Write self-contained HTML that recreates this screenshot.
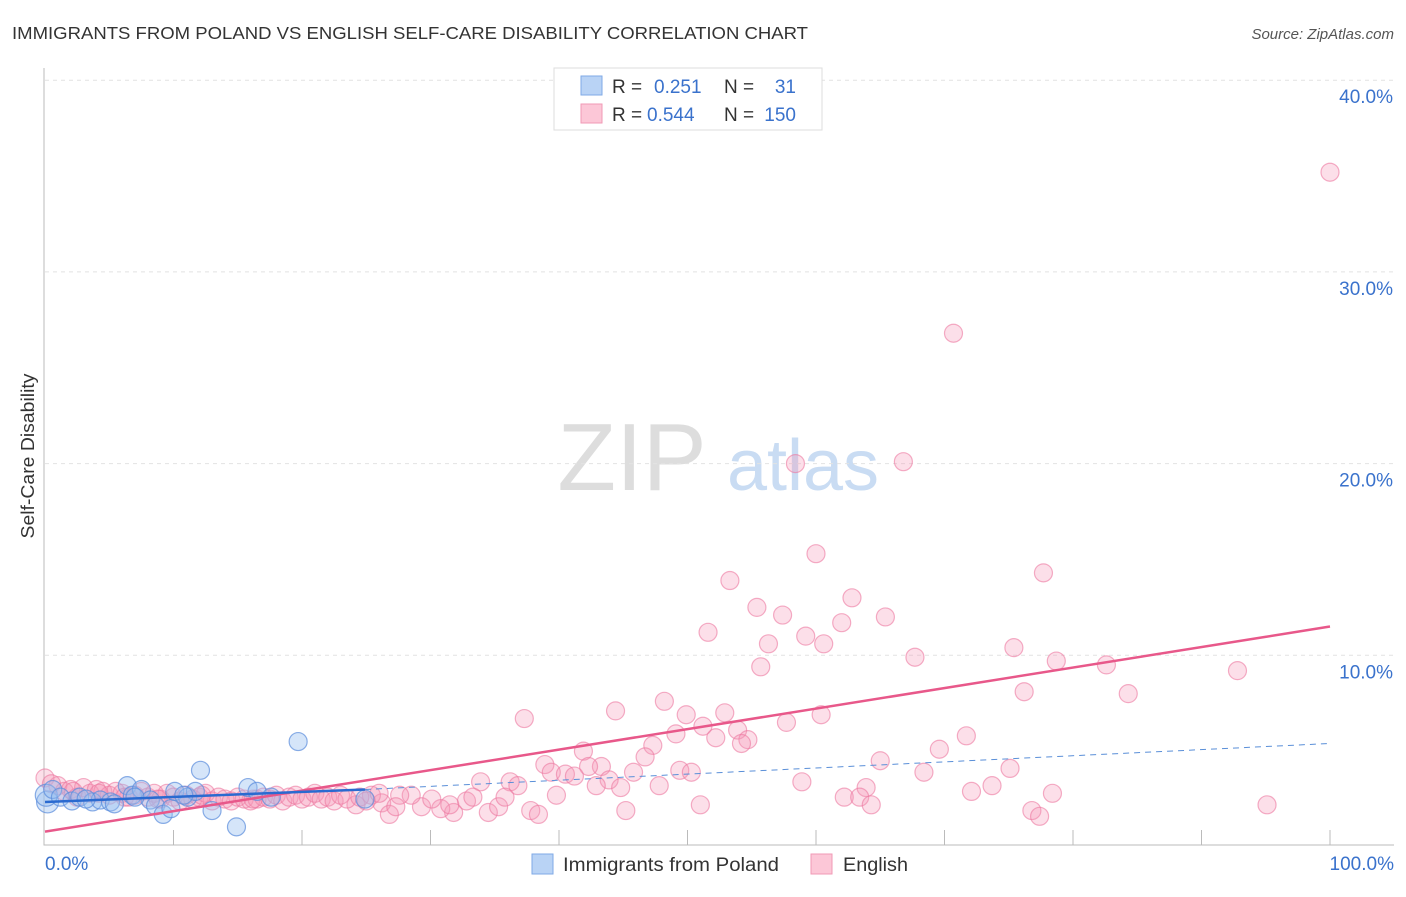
<!DOCTYPE html>
<html><head><meta charset="utf-8"><style>
body{margin:0;background:#fff;font-family:"Liberation Sans",sans-serif;}
svg text{font-family:"Liberation Sans",sans-serif;}
</style></head><body>
<svg id="chart" width="1406" height="892" xmlns="http://www.w3.org/2000/svg">
<text x="12" y="39" font-size="17.5" fill="#333" textLength="796" lengthAdjust="spacingAndGlyphs">IMMIGRANTS FROM POLAND VS ENGLISH SELF-CARE DISABILITY CORRELATION CHART</text>
<text x="1394" y="39" font-size="15" fill="#555" font-style="italic" text-anchor="end">Source: ZipAtlas.com</text>
<g>
<text x="632" y="490" font-size="96" fill="#ddd" font-family="Liberation Serif, serif" text-anchor="middle">ZIP</text>
<text x="803" y="490" font-size="72" fill="#c9dcf3" text-anchor="middle">atlas</text>
</g>
<g id="grid"></g>
<g id="axes"></g>
<g id="pts"></g>
<g id="lines"></g>
<text transform="translate(34,456) rotate(-90)" font-size="18" fill="#333" text-anchor="middle" textLength="165" lengthAdjust="spacingAndGlyphs">Self-Care Disability</text>
<g>
<rect x="554" y="68" width="268" height="62" fill="#fff" stroke="#ddd"/>
<rect x="581" y="76" width="21" height="19" fill="#b9d3f5" stroke="#7fa9e6"/>
<rect x="581" y="104" width="21" height="19" fill="#fcc7d7" stroke="#f09ab6"/>
<text x="612" y="93" font-size="19" fill="#333">R =</text><text x="654" y="93" font-size="19" fill="#3a72cc">0.251</text>
<text x="724" y="93" font-size="19" fill="#333">N =</text><text x="796" y="93" font-size="19" fill="#3a72cc" text-anchor="end">31</text>
<text x="612" y="121" font-size="19" fill="#333">R =</text><text x="647" y="121" font-size="19" fill="#3a72cc">0.544</text>
<text x="724" y="121" font-size="19" fill="#333">N =</text><text x="796" y="121" font-size="19" fill="#3a72cc" text-anchor="end">150</text>
</g>
<g>
<rect x="532" y="854" width="21" height="20" fill="#b9d3f5" stroke="#7fa9e6"/>
<text x="563" y="871" font-size="19" fill="#333" textLength="216" lengthAdjust="spacingAndGlyphs">Immigrants from Poland</text>
<rect x="811" y="854" width="21" height="20" fill="#fcc7d7" stroke="#f09ab6"/>
<text x="843" y="871" font-size="19" fill="#333" textLength="65" lengthAdjust="spacingAndGlyphs">English</text>
</g>
</svg>
<script>
const yTicks=[10,20,30,40];
const yTickLabels=["10.0%","20.0%","30.0%","40.0%"];
const xTickLabels=["0.0%","100.0%"];
const blueX=[0.2,0.1,0.6,1.2,2.1,2.7,3.7,4.3,5.1,5.4,6.4,6.8,7.5,8.2,8.6,9.2,9.8,10.1,11.1,11.7,12.1,13.0,14.9,15.8,16.5,17.6,19.7,24.9,3.2,7.0,10.8];
const blueY=[2.35,2.7,3.0,2.6,2.4,2.6,2.35,2.45,2.35,2.25,3.2,2.7,3.0,2.45,2.15,1.7,2.0,2.9,2.6,2.9,4.0,1.9,1.05,3.1,2.9,2.6,5.5,2.5,2.5,2.6,2.7];
const pinkX=[100,70.7,58.4,66.8,60.0,77.7,53.3,62.8,55.4,57.4,62.0,65.4,51.6,56.3,59.2,60.6,75.4,67.7,55.7,78.7,82.6,92.8,76.2,84.3,48.2,44.4,49.9,52.9,37.3,60.4,51.2,57.7,49.1,52.2,53.9,54.7,54.2,71.7,47.3,69.6,41.9,46.7,38.9,65.0,43.3,42.3,75.1,39.4,40.5,41.2,45.8,49.4,50.3,43.9,42.9,68.4,33.9,36.2,36.8,47.8,58.9,73.7,72.1,63.9,78.4,39.8,44.8,62.2,63.4,64.3,51.0,95.1,76.8,77.4,45.2,37.8,38.4,34.5,35.3,32.8,33.3,31.8,30.8,31.5,29.3,30.1,28.5,27.6,26.2,26.8,27.3,24.2,25.4,35.8,
0,1,1.5,2,2.5,3,3.5,4,4.5,5,5.5,6,6.5,7,7.5,8,8.5,9,9.5,10,10.5,11,11.5,12,12.5,13,13.5,14,14.5,15,15.5,16,16.5,17,17.5,18,18.5,19,19.5,20,20.5,21,21.5,22,22.5,23,23.5,24.5,25,26,0.5,2.2,4.2,6.2,8.8,12.2,16.2];
const pinkY=[35.2,26.8,20.0,20.1,15.3,14.3,13.9,13.0,12.5,12.1,11.7,12.0,11.2,10.6,11.0,10.6,10.4,9.9,9.4,9.7,9.5,9.2,8.1,8.0,7.6,7.1,6.9,7.0,6.7,6.9,6.3,6.5,5.9,5.7,6.1,5.6,5.4,5.8,5.3,5.1,5.0,4.7,4.3,4.5,4.2,4.2,4.1,3.9,3.8,3.7,3.9,4.0,3.9,3.5,3.2,3.9,3.4,3.4,3.2,3.2,3.4,3.2,2.9,3.1,2.8,2.7,3.1,2.6,2.6,2.2,2.2,2.2,1.9,1.6,1.9,1.9,1.7,1.8,2.1,2.4,2.6,1.8,2.0,2.2,2.1,2.5,2.7,2.7,2.3,1.7,2.1,2.2,2.7,2.6,
3.6,3.2,2.9,3.0,2.6,3.1,2.8,3.0,2.9,2.7,2.9,2.8,2.6,2.7,2.9,2.6,2.8,2.5,2.8,2.6,2.4,2.7,2.5,2.6,2.8,2.4,2.6,2.5,2.4,2.6,2.5,2.4,2.5,2.6,2.5,2.7,2.4,2.6,2.7,2.5,2.6,2.8,2.5,2.6,2.4,2.7,2.5,2.6,2.4,2.8,3.3,2.9,2.8,2.6,2.5,2.7,2.5];
const blueTrend=[2.35,3.0,5.4];
const blueTrendX=[0,24.9,100];
const pinkTrend=[0.8,11.5];
const X=v=>45+v*12.85, Y=v=>847-v*19.17;
const NS="http://www.w3.org/2000/svg";
function mk(tag,attrs,parent){const e=document.createElementNS(NS,tag);for(const k in attrs)e.setAttribute(k,attrs[k]);parent.appendChild(e);return e;}
const grid=document.getElementById('grid'),axes=document.getElementById('axes'),pts=document.getElementById('pts'),lines=document.getElementById('lines');
yTicks.forEach((t,i)=>{
 const g=mk('line',{x1:45,x2:1394,y1:Y(t),y2:Y(t),stroke:'#e2e2e2','stroke-dasharray':'4,4'},grid);
 
 
 const l=mk('text',{x:1393,y:Y(t)+23,'font-size':19,fill:'#3a72cc','text-anchor':'end'},axes);
 l.textContent=yTickLabels[i];
 
 
});
const ax=mk('path',{d:`M44 68V845H1394`,stroke:'#bbb',fill:'none'},axes);


for(let i=1;i<=10;i++){const t=mk('line',{x1:X(i*10),x2:X(i*10),y1:830,y2:845,stroke:'#bbb'},axes);
 
 }
[[0,'start',45],[1,'end',1394]].forEach(([i,a,x])=>{const t=mk('text',{x:x,y:870,'font-size':19,fill:'#3a72cc','text-anchor':a},axes);t.textContent=xTickLabels[i];
 
 });
pinkX.forEach((v,i)=>{const c=mk('circle',{cx:X(v),cy:Y(pinkY[i]),r:9,fill:'rgba(246,150,182,0.3)',stroke:'rgba(236,120,160,0.6)','stroke-width':1.2},pts);
 
 });
blueX.forEach((v,i)=>{const c=mk('circle',{cx:X(v),cy:Y(blueY[i]),r:i<2?11:9,fill:'rgba(150,190,240,0.4)',stroke:'rgba(90,140,220,0.7)','stroke-width':1.2},pts);
 
 });
const pl=mk('line',{x1:X(0),y1:Y(pinkTrend[0]),x2:X(100),y2:Y(pinkTrend[1]),stroke:'#e8588a','stroke-width':2.5},lines);


const bl=mk('line',{x1:X(blueTrendX[0]),y1:Y(blueTrend[0]),x2:X(blueTrendX[1]),y2:Y(blueTrend[1]),stroke:'#2a6ad0','stroke-width':2.5},lines);


const bd=mk('line',{x1:X(blueTrendX[1]),y1:Y(blueTrend[1]),x2:X(blueTrendX[2]),y2:Y(blueTrend[2]),stroke:'#5a8fd8','stroke-width':1,'stroke-dasharray':'6,5'},lines);


</script>
</body></html>
